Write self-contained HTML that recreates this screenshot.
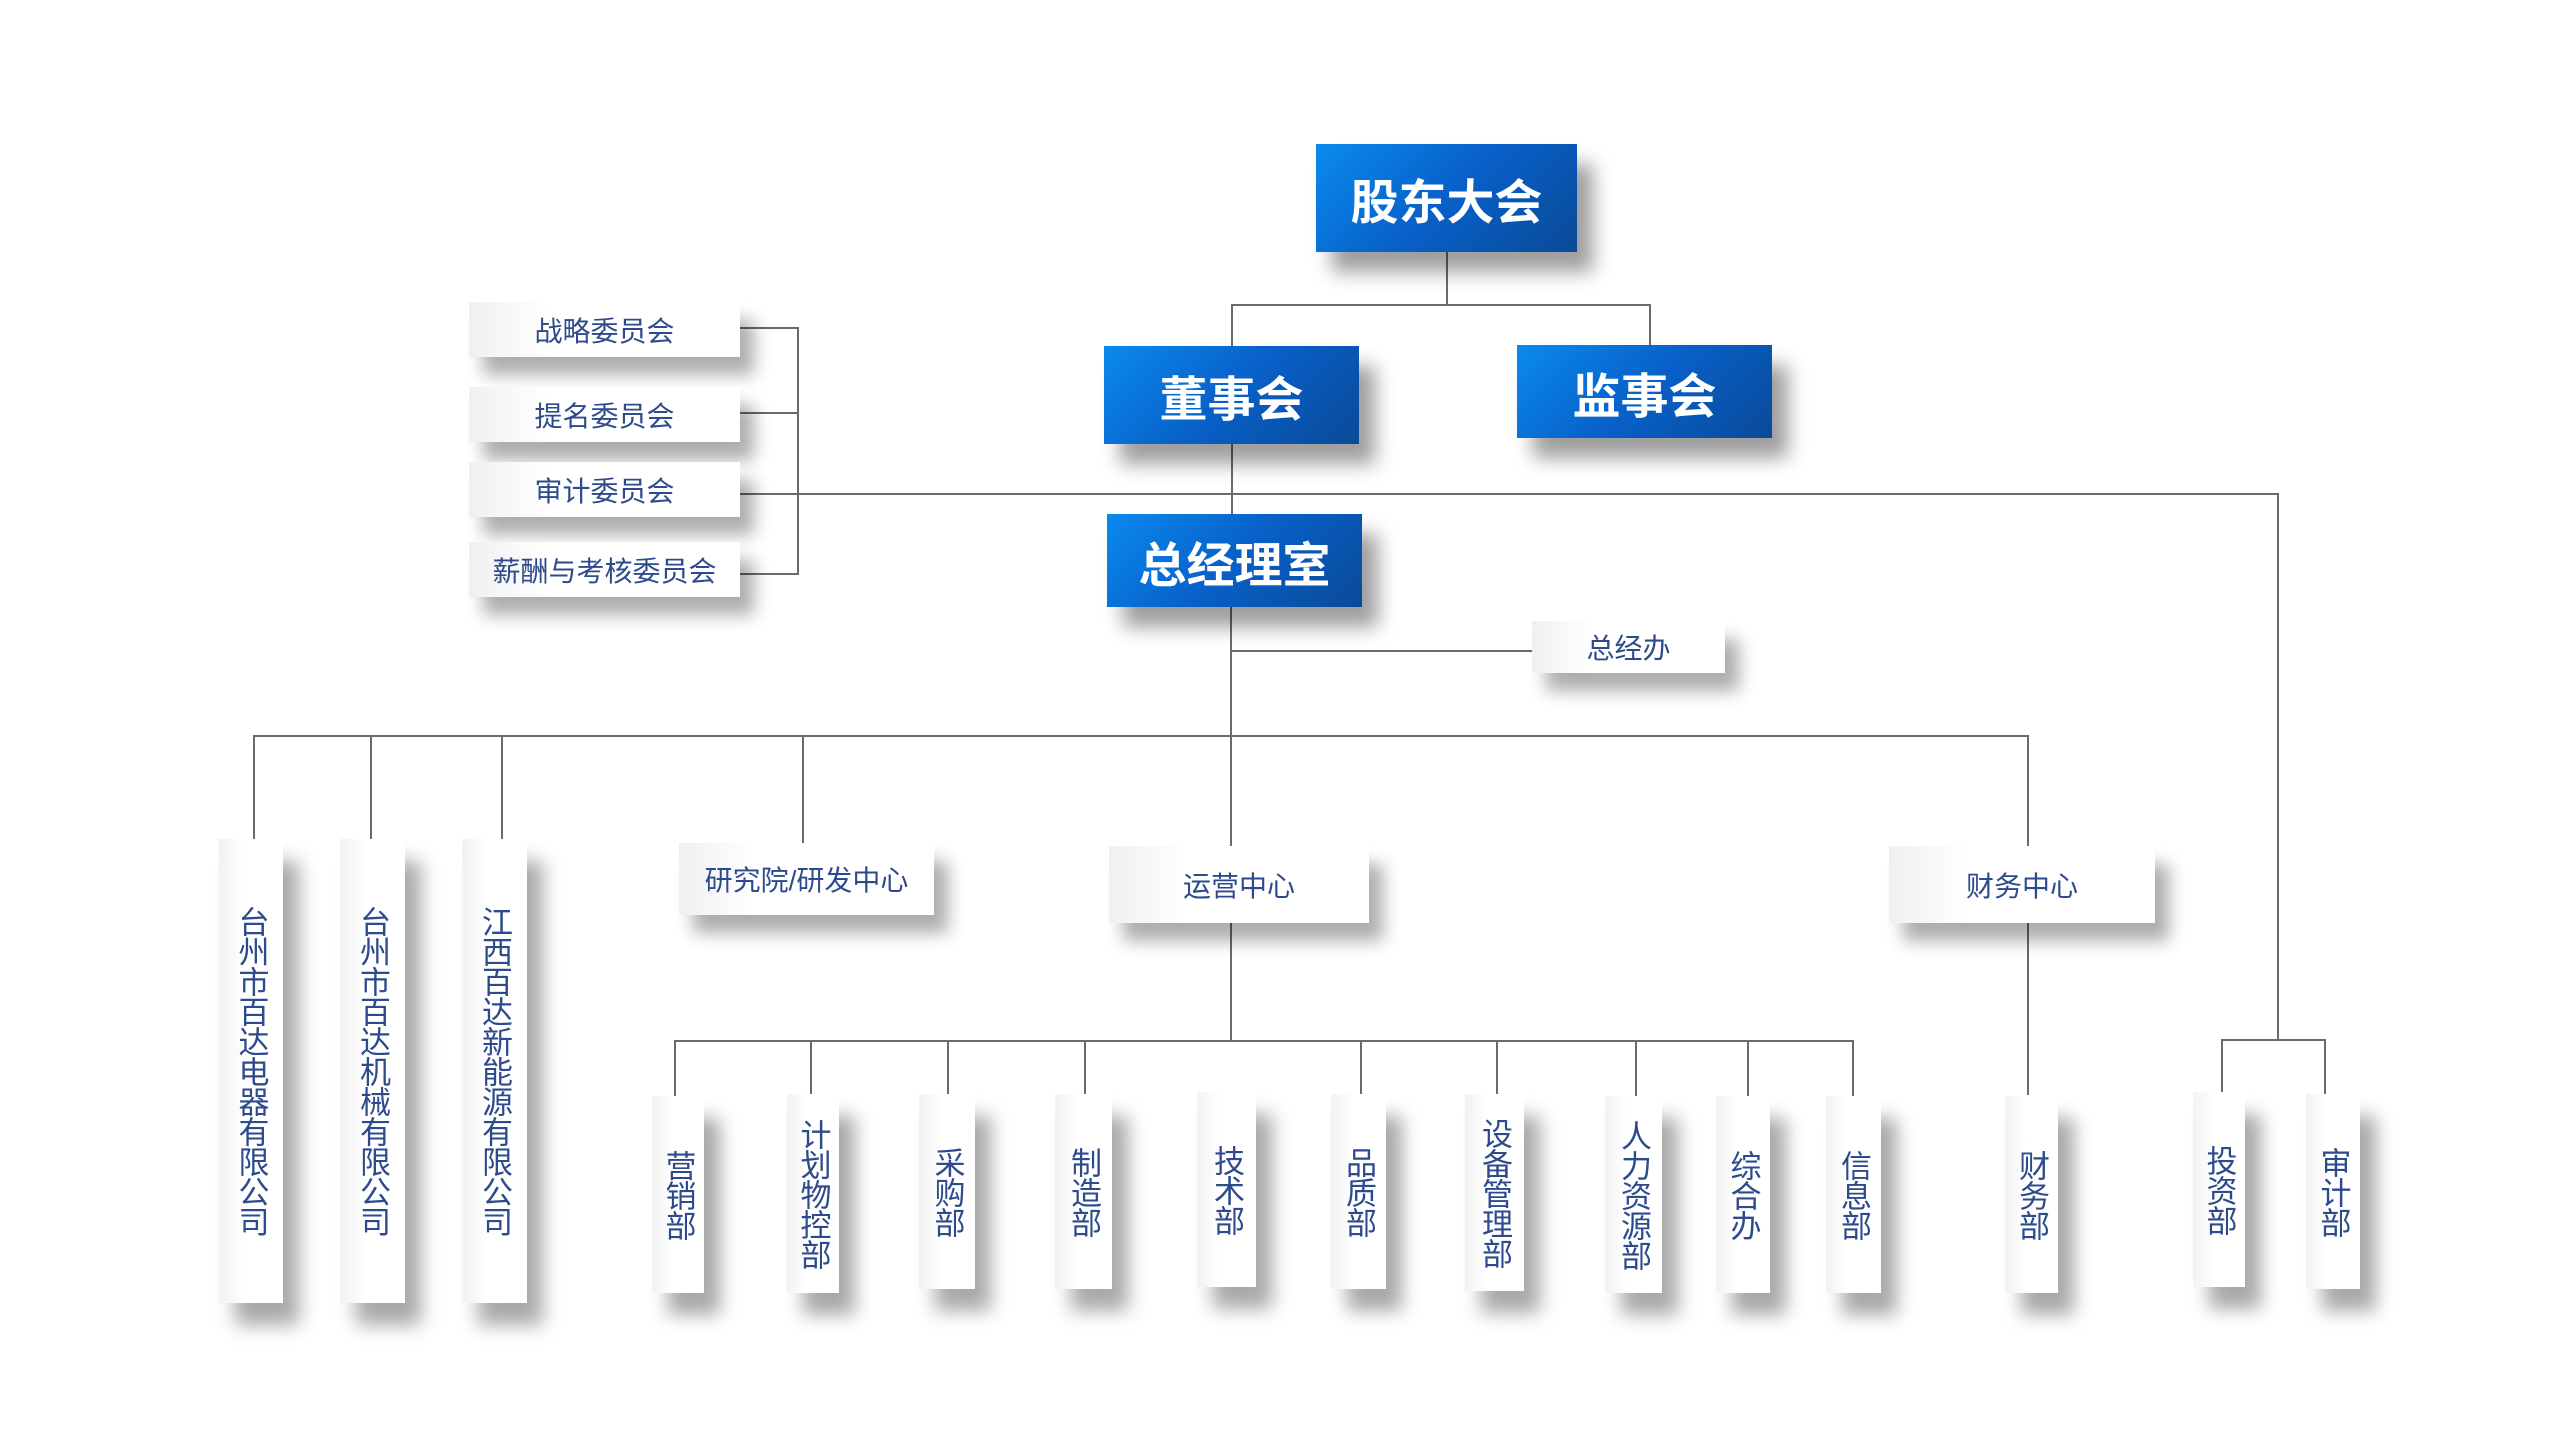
<!DOCTYPE html>
<html><head><meta charset="utf-8"><style>
body{margin:0;width:2560px;height:1440px;background:#fff;position:relative;overflow:hidden;font-family:"Liberation Sans","Noto Sans CJK SC",sans-serif}
.b{position:absolute;background:linear-gradient(135deg,#0a8aee 0%,#0860c8 50%,#0a4a98 100%);color:#fff;font-weight:bold;font-size:48px;display:flex;align-items:center;justify-content:center;box-shadow:16px 20px 18px rgba(0,0,0,.38);font-family:"Noto Sans CJK SC",sans-serif}
.w{position:absolute;background:linear-gradient(90deg,#f0f0f2,#fff 30%,#fff);color:#2d4b8c;font-size:28px;display:flex;align-items:center;justify-content:center;box-shadow:14px 18px 16px rgba(0,0,0,.32)}
.v{position:absolute;background:linear-gradient(90deg,#f2f2f4,#fff 40%);color:#2d4b8c;font-size:31px;line-height:1;display:flex;align-items:center;justify-content:center;box-shadow:16px 22px 18px rgba(0,0,0,.34)}
.v span{writing-mode:vertical-rl;text-orientation:upright;letter-spacing:-1px}
.h{position:absolute;height:2px;background:#6a6a6a}
.l{position:absolute;width:2px;background:#6a6a6a}
</style></head><body>
<!-- lines -->
<div class="l" style="left:1446px;top:251px;height:54px"></div>
<div class="h" style="left:1231px;top:304px;width:419px"></div>
<div class="l" style="left:1231px;top:304px;height:44px"></div>
<div class="l" style="left:1649px;top:304px;height:44px"></div>
<div class="l" style="left:1231px;top:444px;height:72px"></div>
<div class="h" style="left:740px;top:493px;width:1539px"></div>
<div class="l" style="left:2277px;top:493px;height:547px"></div>
<div class="l" style="left:797px;top:327px;height:248px"></div>
<div class="h" style="left:740px;top:327px;width:58px"></div>
<div class="h" style="left:740px;top:412px;width:58px"></div>
<div class="h" style="left:740px;top:573px;width:58px"></div>
<div class="l" style="left:1230px;top:607px;height:240px"></div>
<div class="h" style="left:1230px;top:650px;width:302px"></div>
<div class="h" style="left:253px;top:735px;width:1775px"></div>
<div class="l" style="left:253px;top:735px;height:104px"></div>
<div class="l" style="left:370px;top:735px;height:104px"></div>
<div class="l" style="left:501px;top:735px;height:104px"></div>
<div class="l" style="left:802px;top:735px;height:108px"></div>
<div class="l" style="left:2027px;top:735px;height:360px"></div>
<div class="l" style="left:1230px;top:923px;height:117px"></div>
<div class="h" style="left:674px;top:1040px;width:1179px"></div>
<div class="l" style="left:674px;top:1040px;height:56px"></div>
<div class="l" style="left:810px;top:1040px;height:56px"></div>
<div class="l" style="left:947px;top:1040px;height:56px"></div>
<div class="l" style="left:1084px;top:1040px;height:56px"></div>
<div class="l" style="left:1360px;top:1040px;height:56px"></div>
<div class="l" style="left:1496px;top:1040px;height:56px"></div>
<div class="l" style="left:1635px;top:1040px;height:56px"></div>
<div class="l" style="left:1747px;top:1040px;height:56px"></div>
<div class="l" style="left:1852px;top:1040px;height:56px"></div>
<div class="h" style="left:2221px;top:1039px;width:104px"></div>
<div class="l" style="left:2221px;top:1039px;height:56px"></div>
<div class="l" style="left:2324px;top:1039px;height:56px"></div>
<!-- blue -->
<div class="b" style="left:1316px;top:144px;width:261px;height:108px">股东大会</div>
<div class="b" style="left:1104px;top:346px;width:255px;height:98px">董事会</div>
<div class="b" style="left:1517px;top:345px;width:255px;height:93px">监事会</div>
<div class="b" style="left:1107px;top:514px;width:255px;height:93px">总经理室</div>
<!-- white -->
<div class="w" style="left:469px;top:302px;width:271px;height:55px">战略委员会</div>
<div class="w" style="left:469px;top:387px;width:271px;height:55px">提名委员会</div>
<div class="w" style="left:469px;top:462px;width:271px;height:55px">审计委员会</div>
<div class="w" style="left:469px;top:542px;width:271px;height:55px">薪酬与考核委员会</div>
<div class="w" style="left:1532px;top:621px;width:193px;height:52px">总经办</div>
<div class="w" style="left:679px;top:843px;width:255px;height:72px">研究院/研发中心</div>
<div class="w" style="left:1109px;top:846px;width:260px;height:77px">运营中心</div>
<div class="w" style="left:1889px;top:846px;width:266px;height:77px">财务中心</div>
<!-- vertical -->
<div class="v" style="left:219px;top:839px;width:64px;height:464px"><span>台州市百达电器有限公司</span></div>
<div class="v" style="left:340px;top:839px;width:65px;height:464px"><span>台州市百达机械有限公司</span></div>
<div class="v" style="left:462px;top:839px;width:65px;height:464px"><span>江西百达新能源有限公司</span></div>
<div class="v" style="left:652px;top:1096px;width:52px;height:197px"><span>营销部</span></div>
<div class="v" style="left:787px;top:1094px;width:52px;height:199px"><span>计划物控部</span></div>
<div class="v" style="left:919px;top:1094px;width:56px;height:195px"><span>采购部</span></div>
<div class="v" style="left:1055px;top:1094px;width:57px;height:195px"><span>制造部</span></div>
<div class="v" style="left:1197px;top:1092px;width:59px;height:195px"><span>技术部</span></div>
<div class="v" style="left:1331px;top:1094px;width:55px;height:195px"><span>品质部</span></div>
<div class="v" style="left:1465px;top:1094px;width:59px;height:197px"><span>设备管理部</span></div>
<div class="v" style="left:1605px;top:1096px;width:57px;height:197px"><span>人力资源部</span></div>
<div class="v" style="left:1716px;top:1096px;width:54px;height:197px"><span>综合办</span></div>
<div class="v" style="left:1826px;top:1096px;width:55px;height:197px"><span>信息部</span></div>
<div class="v" style="left:2005px;top:1096px;width:53px;height:197px"><span>财务部</span></div>
<div class="v" style="left:2193px;top:1092px;width:52px;height:195px"><span>投资部</span></div>
<div class="v" style="left:2306px;top:1094px;width:54px;height:195px"><span>审计部</span></div>
</body></html>
